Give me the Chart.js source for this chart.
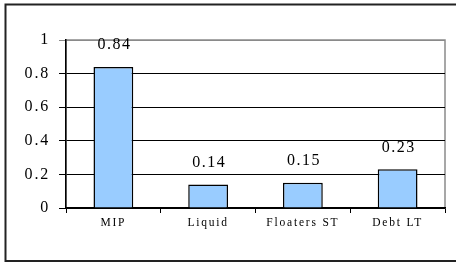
<!DOCTYPE html>
<html>
<head>
<meta charset="utf-8">
<script src="https://cdn.jsdelivr.net/npm/chart.js@4/dist/chart.umd.min.js"></script>
<style>
  html, body { margin: 0; padding: 0; background: #fff; }
  #wrap { width: 456px; height: 262px; }
</style>
</head>
<body>
<div id="wrap"><canvas id="barChart" width="456" height="262"></canvas></div>
<script>
const categories = ['MIP', 'Liquid', 'Floaters ST', 'Debt LT'];
const values = [0.84, 0.14, 0.15, 0.23];
const yTicks = [0, 0.2, 0.4, 0.6, 0.8, 1];

const serif = '"Liberation Serif", "Times New Roman", serif';

// outer frame + plot-area border; also widen letter spacing like the original
const framePlugin = {
    id: 'frame',
    beforeDraw(chart) {
        const ctx = chart.ctx;
        const a = chart.chartArea;
        ctx.save();
        ctx.strokeStyle = '#222';
        ctx.lineWidth = 2;
        ctx.beginPath();
        ctx.moveTo(460, 4.5);
        ctx.lineTo(5.5, 4.5);
        ctx.lineTo(5.5, 261);
        ctx.lineTo(460, 261);
        ctx.stroke();
        ctx.strokeStyle = '#8a8a8a';
        ctx.lineWidth = 1.5;
        ctx.strokeRect(a.left, a.top, a.right - a.left, a.bottom - a.top);
        ctx.restore();
        ctx.letterSpacing = '1.8px';
    }
};

// value labels above bars
const valueLabels = {
    id: 'valueLabels',
    afterDatasetsDraw(chart) {
        const ctx = chart.ctx;
        const meta = chart.getDatasetMeta(0);
        ctx.save();
        ctx.letterSpacing = '1.5px';
        ctx.font = '16px ' + serif;
        ctx.fillStyle = '#000';
        ctx.textAlign = 'center';
        ctx.textBaseline = 'middle';
        meta.data.forEach(function(bar, i) {
            ctx.fillText(String(values[i]), bar.x + 1, bar.y - 22);
        });
        ctx.restore();
    }
};

new Chart(document.getElementById('barChart').getContext('2d'), {
    type: 'bar',
    data: {
        labels: categories,
        datasets: [{
            data: values,
            backgroundColor: '#99CCFF',
            borderColor: '#000',
            borderWidth: 1.5,
            categoryPercentage: 1,
            barPercentage: 0.42
        }]
    },
    options: {
        responsive: false,
        animation: false,
        layout: { padding: { top: 40, right: 11, left: 0, bottom: 0 } },
        plugins: {
            legend: { display: false },
            tooltip: { enabled: false }
        },
        scales: {
            x: {
                afterFit(scale) { scale.height = 54; },
                grid: {
                    offset: true,
                    drawOnChartArea: false,
                    drawTicks: true,
                    tickLength: 5,
                    color: '#000',
                    lineWidth: 1
                },
                border: { display: true, color: '#000', width: 1.5 },
                ticks: {
                    color: '#000',
                    padding: 3,
                    font: { family: serif, size: 11.5 }
                }
            },
            y: {
                min: 0,
                max: 1,
                afterFit(scale) { scale.width = 66; },
                afterBuildTicks(scale) {
                    scale.ticks = yTicks.map(v => ({ value: v }));
                },
                grid: {
                    drawTicks: true,
                    tickLength: 7,
                    color: ctx => (ctx.tick && ctx.tick.value === 1) ? '#8a8a8a' : '#000',
                    lineWidth: 1
                },
                border: { display: true, color: '#000', width: 1.5 },
                ticks: {
                    color: '#000',
                    padding: 9,
                    font: { family: serif, size: 16 },
                    callback: v => String(v)
                }
            }
        }
    },
    plugins: [framePlugin, valueLabels]
});
</script>
</body>
</html>
